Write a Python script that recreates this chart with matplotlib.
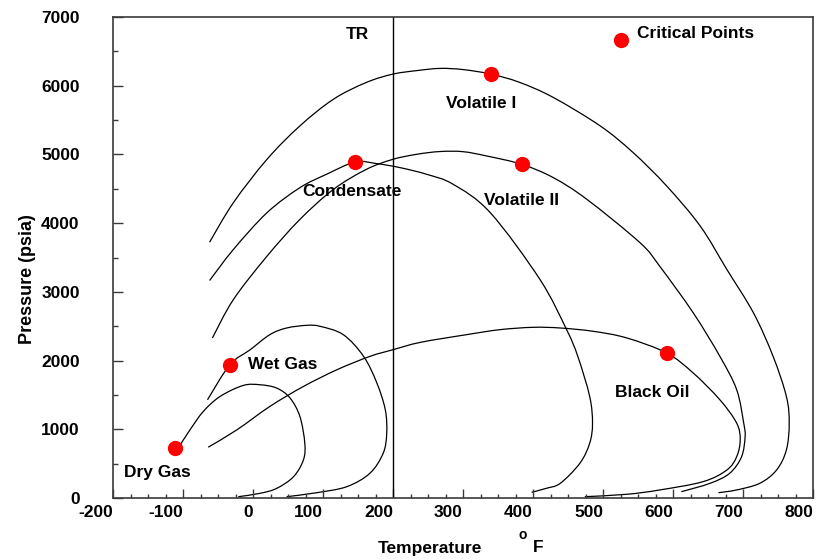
import matplotlib
matplotlib.use('Agg')
import matplotlib.pyplot as plt
import numpy as np
from matplotlib.path import Path
from matplotlib.patches import PathPatch
from matplotlib.ticker import MultipleLocator

plt.rcParams['font.family'] = ['Liberation Sans', 'DejaVu Sans']
plt.rcParams['font.weight'] = 'bold'
plt.rcParams['axes.unicode_minus'] = False

# phase envelopes, temperature (F) and pressure (psia)
dry_gas_t = [-107, -90, -71, -47, -14, 10, 34, 53, 67, 74, 72, 58, 34, 10, -21]
dry_gas_p = [725, 992, 1259, 1478, 1638, 1648, 1599, 1454, 1186, 798, 554, 311, 141, 68, 19]

wet_gas_t = [-65, -33, -4, 24, 48, 77, 96, 129, 158, 177, 189, 191, 186, 167, 134, 91, 48]
wet_gas_p = [1429, 1940, 2158, 2377, 2474, 2513, 2498, 2377, 2061, 1672, 1283, 942, 652, 360, 165, 77, 19]

condensate_t = [-62, -28, 20, 67, 105, 146, 177, 210, 248, 286, 339, 410, 448, 464, 481, 485, 481, 467, 439, 419, 398]
condensate_p = [3165, 3617, 4152, 4516, 4711, 4890, 4866, 4808, 4711, 4565, 4152, 3179, 2450, 2061, 1477, 1089, 798, 506, 214, 141, 83]

volatile1_t = [-62, -28, 20, 67, 115, 162, 200, 234, 267, 300, 340, 381, 429, 496, 543, 591, 639, 677,
               715, 743, 762, 766, 762, 748, 724, 691, 665]
volatile1_p = [3723, 4298, 4929, 5415, 5804, 6048, 6169, 6220, 6252, 6235, 6169, 6048, 5829, 5415, 5027, 4540, 3956, 3325,
               2693, 2061, 1477, 1089, 700, 408, 214, 117, 77]

volatile2_t = [-58, -28, 20, 67, 115, 162, 200, 234, 267, 300, 334, 384, 429, 477, 553, 581, 629,
               667, 691, 701, 703, 698, 681, 653, 612]
volatile2_p = [2329, 2888, 3519, 4054, 4492, 4783, 4929, 5002, 5042, 5040, 4977, 4856, 4662, 4346, 3714, 3373, 2693,
               2061, 1575, 1089, 894, 602, 360, 214, 92]

black_oil_t = [-64, -23, 24, 72, 120, 167, 200, 239, 305, 353, 400, 439, 486, 534, 591, 629, 667, 691, 696,
               691, 677, 643, 581, 534, 474]
black_oil_p = [739, 992, 1332, 1623, 1867, 2061, 2158, 2265, 2377, 2450, 2484, 2474, 2426, 2329, 2110, 1818, 1429, 1089, 846,
               602, 408, 238, 117, 54, 19]

# critical points
crit_t = [-111, -33, 146, 340, 384, 591]
crit_p = [733, 1940, 4890, 6173, 4861, 2104]
legend_dot = (525, 6660)

reservoir_t = 200

labels = [('Dry Gas', -137, 372), ('Wet Gas', 43, 1947), ('Condensate', 142, 4455),
          ('Volatile I', 326, 5746), ('Volatile II', 383, 4331), ('Black Oil', 571, 1539),
          ('TR', 149, 6752)]


def smooth_path(t, p):
    # catmull-rom through the points, as cubic bezier segments
    pts = np.column_stack([t, p]).astype(float)
    ext = np.vstack([pts[0], pts, pts[-1]])
    verts = [pts[0]]
    codes = [Path.MOVETO]
    for i in range(1, len(ext) - 2):
        p0, p1, p2, p3 = ext[i - 1], ext[i], ext[i + 1], ext[i + 2]
        verts += [p1 + (p2 - p0) / 6.0, p2 - (p3 - p1) / 6.0, p2]
        codes += [Path.CURVE4] * 3
    return Path(verts, codes)


fig = plt.figure(figsize=(8.22, 5.59), dpi=100)
ax = fig.add_axes([113 / 822, 61 / 559, 700 / 822, 481 / 559])

for t, p in [(dry_gas_t, dry_gas_p), (wet_gas_t, wet_gas_p), (condensate_t, condensate_p),
             (volatile1_t, volatile1_p), (volatile2_t, volatile2_p), (black_oil_t, black_oil_p)]:
    ax.add_patch(PathPatch(smooth_path(t, p), fill=False, edgecolor='black', lw=0.9))

ax.axvline(reservoir_t, color='black', lw=1.0)

ax.plot(crit_t, crit_p, 'o', color='red', ms=11, mec='none', zorder=5)
ax.plot([legend_dot[0]], [legend_dot[1]], 'o', color='red', ms=11, mec='none', zorder=5)
ax.text(548, 6767, 'Critical Points', ha='left', va='center', fontsize=12.5, fontweight='bold')

for s, x, y in labels:
    ax.text(x, y, s, ha='center', va='center', fontsize=12.5, fontweight='bold')

ax.set_xlim(-200, 800)
ax.set_ylim(0, 7000)
ax.xaxis.set_major_locator(MultipleLocator(100))
ax.xaxis.set_minor_locator(MultipleLocator(25))
ax.yaxis.set_major_locator(MultipleLocator(1000))
ax.yaxis.set_minor_locator(MultipleLocator(500))

for sp in ax.spines.values():
    sp.set_color('#3a3a3a')
    sp.set_linewidth(1.2)

ax.tick_params(axis='x', which='major', direction='in', length=6.5, width=1.0, color='#3a3a3a',
               labelsize=12.5, pad=5, top=False)
ax.tick_params(axis='x', which='minor', direction='in', length=3.2, width=1.0, color='#3a3a3a', top=False)
ax.tick_params(axis='y', which='major', direction='in', length=7, width=1.0, color='#3a3a3a',
               labelsize=12.5, pad=24, right=False)
ax.tick_params(axis='y', which='minor', direction='in', length=3.6, width=1.0, color='#3a3a3a', right=False)
plt.setp(ax.get_xticklabels(), ha='right', fontweight='bold')
plt.setp(ax.get_yticklabels(), fontweight='bold')

ax.set_ylabel('Pressure (psia)', fontsize=13, fontweight='bold')
ax.yaxis.set_label_coords(-0.110, 0.4553)
ax.set_xlabel('Temperature', fontsize=12.5, fontweight='bold')
ax.xaxis.set_label_coords(0.4529, -0.089)
ax.text(0.5857, -0.0769, 'o', transform=ax.transAxes, ha='center', va='center', fontsize=10, fontweight='bold')
ax.text(0.6079, -0.1029, 'F', transform=ax.transAxes, ha='center', va='center', fontsize=12.5, fontweight='bold')

fig.savefig('out.png', dpi=100)
